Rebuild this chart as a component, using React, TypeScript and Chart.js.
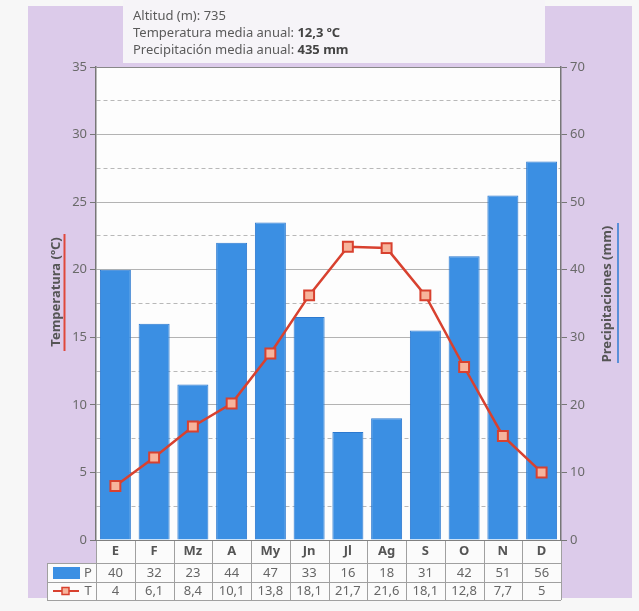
import React, { useEffect, useRef } from 'react';
import { Chart, registerables } from 'chart.js';

Chart.register(...registerables);

const months = ['E', 'F', 'Mz', 'A', 'My', 'Jn', 'Jl', 'Ag', 'S', 'O', 'N', 'D'];
const precipitation = [40, 32, 23, 44, 47, 33, 16, 18, 31, 42, 51, 56];
const temperature = [4, 6.1, 8.4, 10.1, 13.8, 18.1, 21.7, 21.6, 18.1, 12.8, 7.7, 5];
const headerLabels = ['Altitud (m): ', 'Temperatura media anual: ', 'Precipitación media anual: '];
const headerValues = ['735', '12,3 ºC', '435 mm'];
const headerBold = [false, true, true];
const tempTitle = 'Temperatura (ºC)';
const precTitle = 'Precipitaciones (mm)';
const tempRange = [0, 35];
const precRange = [0, 70];

const FONT = "'Noto Sans', sans-serif";
const fmt = (v: number) => String(v).replace('.', ',');

const BLUE = '#3b8fe3';
const BLUE_BORDER = '#2c79cf';
const RED = '#d8412f';

const decorPlugin = {
  id: 'decor',
  beforeDraw(chart: any) {
    const ctx = chart.ctx;
    const { left, right, top, bottom } = chart.chartArea;
    ctx.save();
    ctx.fillStyle = '#f7f7f7';
    ctx.fillRect(0, 0, chart.width, chart.height);
    ctx.fillStyle = '#dccbea';
    ctx.fillRect(28, 6, 604, 592);
    ctx.fillStyle = '#f6f4f8';
    ctx.fillRect(123, 0, 422, 63);
    ctx.fillStyle = '#fdfdfd';
    ctx.fillRect(left, top, right - left, bottom - top);

    // header
    ctx.textBaseline = 'middle';
    ctx.textAlign = 'left';
    const ys = [16, 33, 50];
    headerLabels.forEach((lab, i) => {
      ctx.font = `13px ${FONT}`;
      ctx.fillStyle = '#5a5a5a';
      ctx.fillText(lab, 133, ys[i]);
      const w = ctx.measureText(lab).width;
      ctx.font = `${headerBold[i] ? 'bold ' : ''}13px ${FONT}`;
      ctx.fillStyle = headerBold[i] ? '#444' : '#5a5a5a';
      ctx.fillText(headerValues[i], 133 + w, ys[i]);
    });

    // table backgrounds
    const tableLeft = 47;
    const r0 = bottom, r1 = bottom + 23, r2 = r1 + 19, r3 = r2 + 18;
    ctx.fillStyle = '#fbfbfb';
    ctx.fillRect(left, r0, right - left, r1 - r0);
    ctx.fillRect(tableLeft, r1, right - tableLeft, r3 - r1);
    ctx.strokeStyle = '#a0a0a0';
    ctx.lineWidth = 1;
    ctx.beginPath();
    const colW = (right - left) / months.length;
    for (let i = 0; i <= months.length; i++) {
      const x = Math.round(left + i * colW) + 0.5;
      ctx.moveTo(x, r0);
      ctx.lineTo(x, r3);
    }
    [r1, r2, r3].forEach((y) => {
      ctx.moveTo(tableLeft, Math.round(y) + 0.5);
      ctx.lineTo(right, Math.round(y) + 0.5);
    });
    ctx.moveTo(tableLeft + 0.5, r1);
    ctx.lineTo(tableLeft + 0.5, r3);
    ctx.stroke();
    ctx.restore();
  },
  afterDraw(chart: any) {
    const ctx = chart.ctx;
    const { bottom } = chart.chartArea;
    const xs = chart.scales.x;
    const r1 = bottom + 23, r2 = r1 + 19, r3 = r2 + 18;
    ctx.save();
    ctx.textAlign = 'center';
    ctx.textBaseline = 'middle';
    ctx.font = `13px ${FONT}`;
    ctx.fillStyle = '#666';
    months.forEach((_, i) => {
      const x = xs.getPixelForValue(i);
      ctx.fillText(fmt(precipitation[i]), x, (r1 + r2) / 2 + 0.5);
      ctx.fillText(fmt(temperature[i]), x, (r2 + r3) / 2 + 0.5);
    });
    ctx.fillText('P', 88, (r1 + r2) / 2 + 0.5);
    ctx.fillText('T', 88, (r2 + r3) / 2 + 0.5);
    // legend keys
    ctx.fillStyle = BLUE;
    ctx.fillRect(53, r1 + 4, 27, 12);
    const ty = (r2 + r3) / 2;
    ctx.strokeStyle = RED;
    ctx.lineWidth = 2;
    ctx.beginPath();
    ctx.moveTo(53, ty);
    ctx.lineTo(79, ty);
    ctx.stroke();
    ctx.fillStyle = '#f7b49c';
    ctx.fillRect(62, ty - 3.5, 7, 7);
    ctx.lineWidth = 1.5;
    ctx.strokeRect(62, ty - 3.5, 7, 7);

    // axis titles
    ctx.font = `bold 13px ${FONT}`;
    ctx.fillStyle = '#555';
    ctx.save();
    ctx.translate(56, 292);
    ctx.rotate(-Math.PI / 2);
    ctx.fillText(tempTitle, 0, 0);
    ctx.restore();
    ctx.save();
    ctx.translate(607, 294);
    ctx.rotate(-Math.PI / 2);
    ctx.fillText(precTitle, 0, 0);
    ctx.restore();
    ctx.lineWidth = 2;
    ctx.strokeStyle = '#e0483c';
    ctx.beginPath();
    ctx.moveTo(64.5, 234);
    ctx.lineTo(64.5, 351);
    ctx.stroke();
    ctx.strokeStyle = '#5a8fd8';
    ctx.beginPath();
    ctx.moveTo(618, 223);
    ctx.lineTo(618, 363);
    ctx.stroke();
    ctx.restore();
  },
};

export default function App() {
  const ref = useRef<HTMLCanvasElement>(null);
  useEffect(() => {
    if (!ref.current) return;
    const isMajor = (ctx: any, step: number) => ctx.tick && Math.abs(ctx.tick.value % step) < 1e-6;
    const chart = new Chart(ref.current, {
      data: {
        labels: months,
        datasets: [
          {
            type: 'line',
            label: 'T',
            data: temperature,
            yAxisID: 'yT',
            borderColor: RED,
            borderWidth: 2.5,
            pointStyle: 'rect',
            pointRadius: 7,
            pointBackgroundColor: '#f7b49c',
            pointBorderColor: RED,
            pointBorderWidth: 2,
            order: 0,
          },
          {
            type: 'bar',
            label: 'P',
            data: precipitation,
            yAxisID: 'yP',
            backgroundColor: BLUE,
            borderColor: BLUE_BORDER,
            borderWidth: 1,
            barPercentage: 0.8,
            categoryPercentage: 1,
            order: 1,
          },
        ],
      } as any,
      options: {
        responsive: false,
        animation: false,
        layout: { padding: { top: 67, left: 0, right: 0, bottom: 0 } },
        plugins: { legend: { display: false }, tooltip: { enabled: false }, title: { display: false } },
        scales: {
          x: {
            type: 'category',
            offset: true,
            grid: { display: false, drawTicks: false },
            border: { display: true, color: '#808080', width: 1 },
            ticks: { font: { family: FONT, size: 13, weight: 'bold' }, color: '#555', padding: 3 },
            afterFit: (s: any) => { s.height = 71; },
          },
          yT: {
            type: 'linear',
            position: 'left',
            min: tempRange[0],
            max: tempRange[1],
            ticks: {
              stepSize: 2.5,
              padding: 3,
              font: { family: FONT, size: 13 },
              color: '#6a6a6a',
              callback: (v: any) => (Math.abs(v % 5) < 1e-6 ? String(v) : ''),
            },
            grid: {
              color: (c: any) => (c.tick && (c.tick.value === 35 || c.tick.value === 0) ? '#888' : isMajor(c, 5) ? '#b3b3b3' : '#b8b8b8'),
              lineWidth: 1,
              tickLength: 6,
              tickColor: (c: any) => (isMajor(c, 5) ? '#777' : 'rgba(0,0,0,0)'),
            },
            border: {
              display: true,
              color: '#777',
              width: 1.5,
              dash: (c: any) => (c.tick && !isMajor(c, 5) ? [4, 3] : []),
            },
            afterFit: (s: any) => { s.width = 96; },
          },
          yP: {
            type: 'linear',
            position: 'right',
            min: precRange[0],
            max: precRange[1],
            ticks: {
              stepSize: 5,
              padding: 3,
              font: { family: FONT, size: 13 },
              color: '#6a6a6a',
              callback: (v: any) => (Math.abs(v % 10) < 1e-6 ? String(v) : ''),
            },
            grid: {
              drawOnChartArea: false,
              tickLength: 6,
              tickColor: (c: any) => (isMajor(c, 10) ? '#777' : 'rgba(0,0,0,0)'),
            },
            border: { display: true, color: '#777', width: 1.5 },
            afterFit: (s: any) => { s.width = 78; },
          },
        },
      } as any,
      plugins: [decorPlugin],
    });
    return () => chart.destroy();
  }, []);
  return (
    <div style={{ position: 'absolute', left: 0, top: 0, width: 639, height: 611 }}>
      <canvas ref={ref} width={639} height={611} style={{ display: 'block' }} />
    </div>
  );
}
